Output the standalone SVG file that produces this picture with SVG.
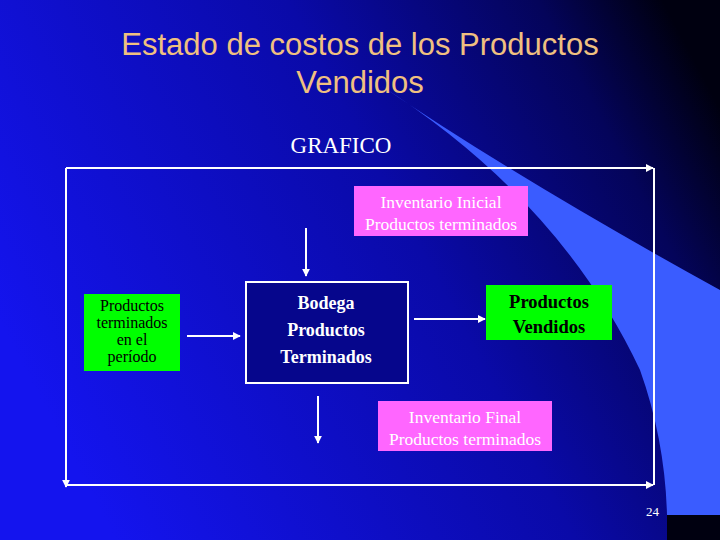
<svg xmlns="http://www.w3.org/2000/svg" width="720" height="540" viewBox="0 0 720 540">
<defs>
<linearGradient id="bg" x1="0" y1="0.6" x2="1" y2="0.2">
<stop offset="0" stop-color="#1414ee"/><stop offset="0.55" stop-color="#0a0aa8"/><stop offset="0.85" stop-color="#04045a"/><stop offset="1" stop-color="#000010"/>
</linearGradient>
<marker id="ah" viewBox="0 0 10 10" refX="9" refY="5" markerWidth="4" markerHeight="4" orient="auto"><path d="M0,0 L10,5 L0,10 z" fill="#fff"/></marker>
<style>
.pink{fill:#ff66ff}.green{fill:#00ff00}
.pt{font-family:"Liberation Serif",serif;font-size:17.5px;fill:#fff;text-anchor:middle}
.gt{font-family:"Liberation Serif",serif;font-size:16px;fill:#000;text-anchor:middle}
.bt{font-family:"Liberation Serif",serif;font-size:18px;font-weight:bold;text-anchor:middle}
.ln{stroke:#fff;stroke-width:2;fill:none}
</style>
</defs>
<rect width="720" height="540" fill="url(#bg)"/>
<path d="M380,85 Q560,200 640,370 Q665,440 667,515 L720,515 L720,290 Q520,180 380,85 Z" fill="#3a5cff"/>
<rect x="667" y="515" width="53" height="25" fill="#000010"/>
<g font-family="Liberation Sans,Arial,sans-serif" font-size="31" fill="#f0c080" text-anchor="middle">
<text x="360" y="55">Estado de costos de los Productos</text>
<text x="360" y="93">Vendidos</text>
</g>
<text x="341" y="153" font-family="Liberation Serif,serif" font-size="23" fill="#fff" text-anchor="middle">GRAFICO</text>
<g id="connectors">
<line class="ln" x1="66" y1="168" x2="653" y2="168" marker-end="url(#ah)"/>
<line class="ln" x1="654" y1="168" x2="654" y2="485"/>
<line class="ln" x1="66" y1="485" x2="653" y2="485" marker-end="url(#ah)"/>
<line class="ln" x1="66" y1="168" x2="66" y2="487" marker-end="url(#ah)"/>
<line class="ln" x1="306" y1="228" x2="306" y2="276" marker-end="url(#ah)"/>
<line class="ln" x1="187" y1="336" x2="240" y2="336" marker-end="url(#ah)"/>
<line class="ln" x1="414" y1="319" x2="485" y2="319" marker-end="url(#ah)"/>
<line class="ln" x1="318" y1="396" x2="318" y2="443" marker-end="url(#ah)"/>
</g>
<g id="inv-inicial"><rect class="pink" x="354" y="186" width="174" height="50"/>
<text class="pt" x="441" y="208">Inventario Inicial</text><text class="pt" x="441" y="230">Productos terminados</text></g>
<g id="bodega"><rect x="246" y="282" width="162" height="101" fill="#06068c" stroke="#fff" stroke-width="2"/>
<text class="bt" fill="#fff" x="326" y="309">Bodega</text><text class="bt" fill="#fff" x="326" y="336">Productos</text><text class="bt" fill="#fff" x="326" y="363">Terminados</text></g>
<g id="prod-periodo"><rect class="green" x="84" y="294" width="96" height="77"/>
<text class="gt" x="132" y="311">Productos</text><text class="gt" x="132" y="328">terminados</text><text class="gt" x="132" y="345">en el</text><text class="gt" x="132" y="362">período</text></g>
<g id="prod-vendidos"><rect class="green" x="486" y="285" width="126" height="55"/>
<text class="bt" fill="#000" x="549" y="308" style="font-size:18.5px">Productos</text><text class="bt" fill="#000" x="549" y="333" style="font-size:18.5px">Vendidos</text></g>
<g id="inv-final"><rect class="pink" x="378" y="401" width="174" height="50"/>
<text class="pt" x="465" y="423">Inventario Final</text><text class="pt" x="465" y="445">Productos terminados</text></g>
<text x="659" y="516" font-family="Liberation Serif,serif" font-size="13" fill="#fff" text-anchor="end">24</text>
</svg>
